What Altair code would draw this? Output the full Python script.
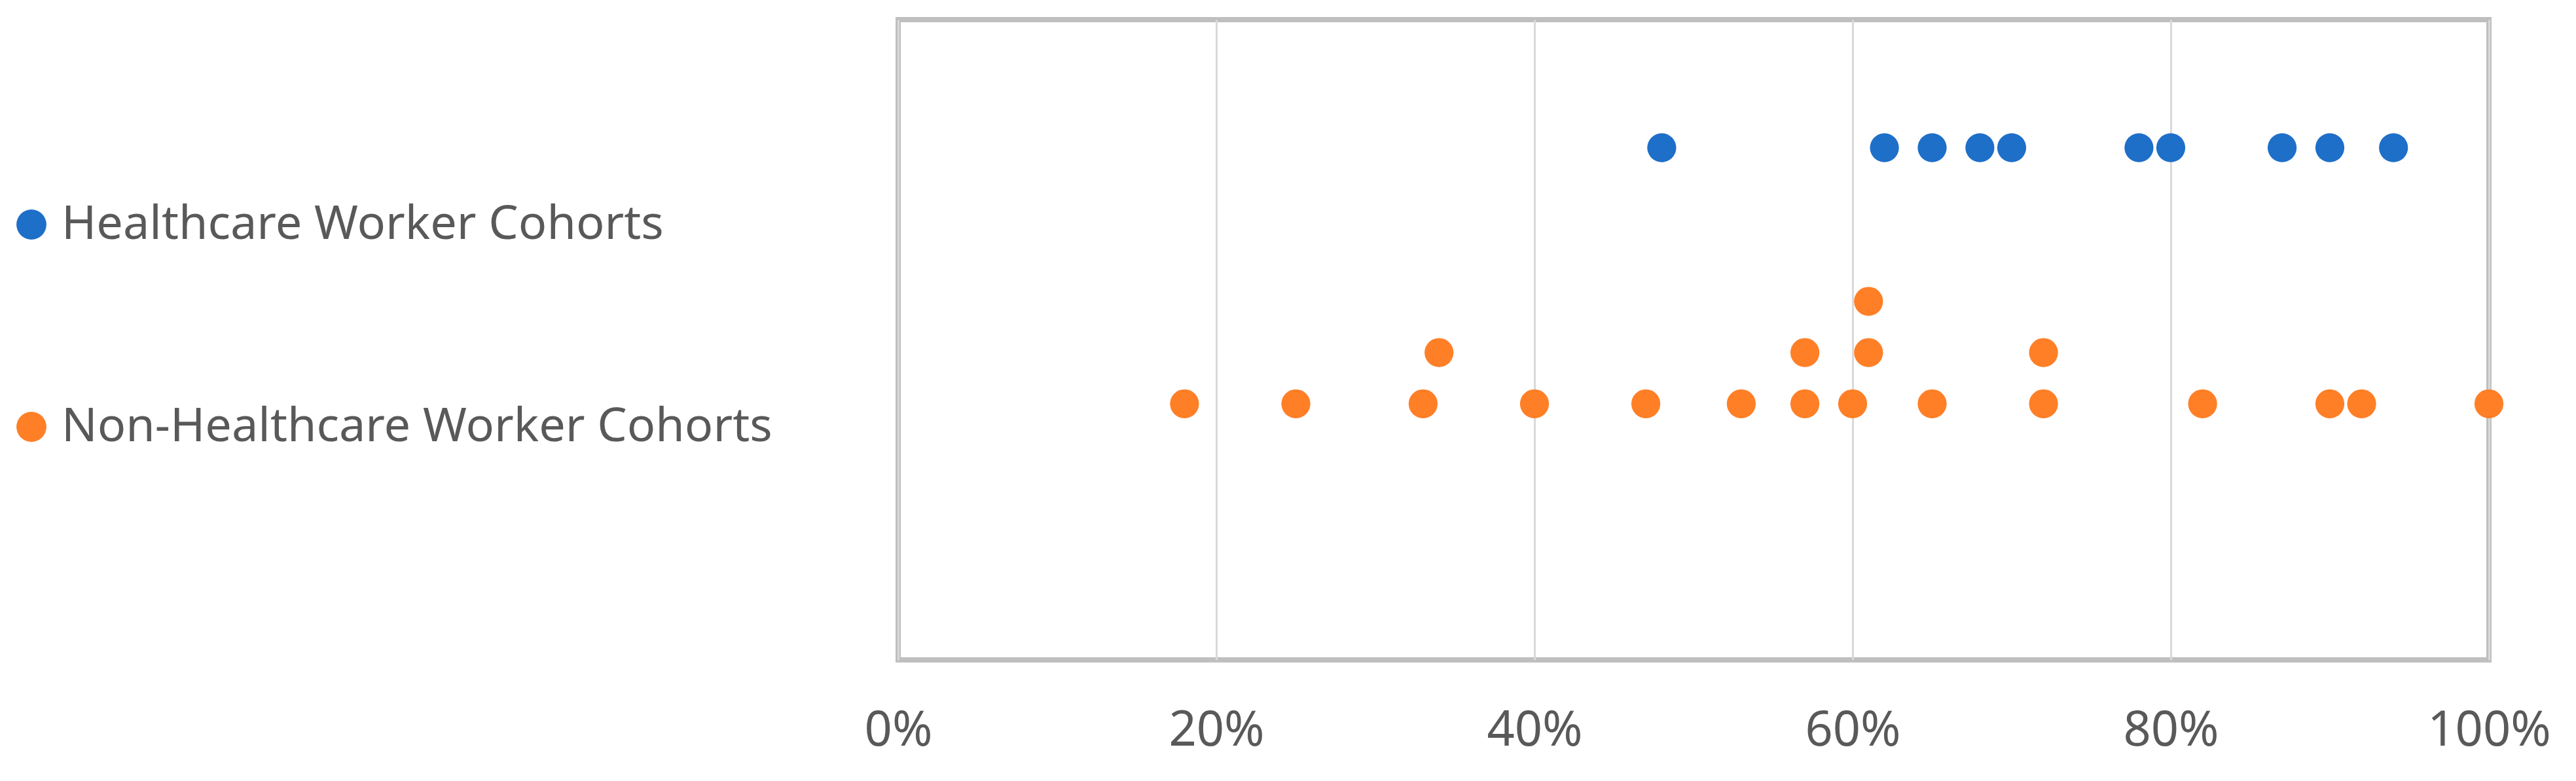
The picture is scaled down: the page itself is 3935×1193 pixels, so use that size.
import altair as alt
import pandas as pd

series_names = ["Healthcare Worker Cohorts", "Non-Healthcare Worker Cohorts"]
series_colors = ["#1E6FC8", "#FF7F27"]

hcw_values = [48, 62, 65, 68, 70, 78, 80, 87, 90, 94]
hcw_levels = [2, 2, 2, 2, 2, 2, 2, 2, 2, 2]

non_values = [18, 25, 33, 40, 47, 53, 57, 60, 65, 72, 82, 90, 92, 100,
              34, 57, 61, 72,
              61]
non_levels = [1, 1, 1, 1, 1, 1, 1, 1, 1, 1, 1, 1, 1, 1,
              1.2, 1.2, 1.2, 1.2,
              1.4]

x_ticks = [0, 20, 40, 60, 80, 100]

rows = []
for v, l in zip(hcw_values, hcw_levels):
    rows.append({"pct": v, "level": l, "group": series_names[0]})
for v, l in zip(non_values, non_levels):
    rows.append({"pct": v, "level": l, "group": series_names[1]})
df = pd.DataFrame(rows)

FONT = "Noto Sans"
TXT = "#595959"

chart = alt.Chart(df).mark_circle(size=1960, opacity=1).encode(
    x=alt.X("pct:Q",
            scale=alt.Scale(domain=[0, 100], nice=False, zero=True),
            axis=alt.Axis(values=x_ticks, labelExpr="datum.value + '%'",
                          title=None, domain=False, ticks=False, tickSize=0,
                          labelPadding=72, labelFont=FONT, labelFontSize=74,
                          labelColor=TXT, labelLimit=1000, grid=True,
                          gridColor="#d9d9d9", gridWidth=3, labelFlush=False,
                          labelOverlap=False)),
    y=alt.Y("level:Q", scale=alt.Scale(domain=[0, 2.5], nice=False),
            axis=None),
    color=alt.Color("group:N",
                    scale=alt.Scale(domain=series_names, range=series_colors),
                    legend=alt.Legend(title=None, orient="none",
                                      legendX=-1360, legendY=277,
                                      direction="vertical",
                                      labelFont=FONT, labelFontSize=72,
                                      labelColor=TXT, labelLimit=3000,
                                      labelOffset=10, rowPadding=237,
                                      symbolType="circle", symbolSize=2100,
                                      symbolStrokeWidth=0, padding=0)),
).properties(
    width=2430,
    height=978,
    background="white",
    autosize=alt.AutoSizeParams(type="none"),
    padding={"left": 1364, "top": 22, "right": 110, "bottom": 172},
).configure_view(
    stroke="#bfbfbf", strokeWidth=8
)

chart.save("out.html", embed_options={"renderer": "svg", "actions": False})
